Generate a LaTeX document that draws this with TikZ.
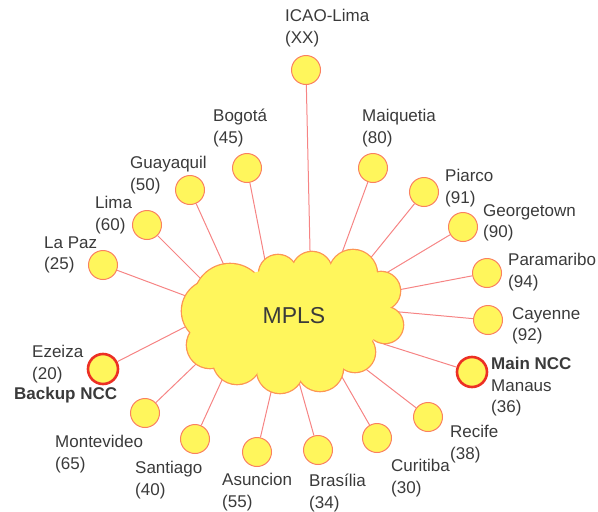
\documentclass[tikz,border=0pt]{standalone}
\usepackage{fontspec}
\setmainfont{Liberation Sans}
\usepackage{xcolor}
\definecolor{StationFill}{RGB}{255,246,92}
\definecolor{StationEdge}{RGB}{250,128,96}
\definecolor{NccEdge}{RGB}{236,48,36}
\definecolor{LinkRed}{RGB}{246,132,132}
\definecolor{CloudEdge}{RGB}{252,150,84}
\definecolor{LabelGray}{RGB}{58,58,58}
\newcommand\stationfont{\fontsize{17}{21.5}\selectfont}
\newcommand\mplsfont{\fontsize{23}{27}\selectfont}

\tikzset{
  station/.style={circle,draw=StationEdge,fill=StationFill,line width=1pt,minimum size=29pt,inner sep=0pt},
  ncc/.style={station,draw=NccEdge,line width=2.6pt,minimum size=30pt},
  link/.style={draw=LinkRed,line width=1pt,shorten >=-10pt},
  place/.style={anchor=west,align=left,inner sep=0pt,text=LabelGray,font=\stationfont},
}

\begin{document}
\begin{tikzpicture}[x=1pt,y=-1pt]
\useasboundingbox (0,0) rectangle (598,512);

% stations
\node[station] (icao) at (306,70) {};
\node[station] (bogota) at (247,168) {};
\node[station] (maiquetia) at (373,168) {};
\node[station] (guayaquil) at (190,190) {};
\node[station] (piarco) at (424,192) {};
\node[station] (lima) at (147,225) {};
\node[station] (georgetown) at (463,227) {};
\node[station] (lapaz) at (103,265) {};
\node[station] (paramaribo) at (487,273) {};
\node[station] (cayenne) at (488,320) {};
\node[ncc] (ezeiza) at (103,369) {};
\node[ncc] (manaus) at (472,372) {};
\node[station] (montevideo) at (145,413) {};
\node[station] (recife) at (428,417) {};
\node[station] (santiago) at (195,439) {};
\node[station] (curitiba) at (377,438) {};
\node[station] (asuncion) at (257,452) {};
\node[station] (brasilia) at (318,450) {};

% links into the cloud
\foreach \s/\x/\y in {icao/310/250,bogota/264/255,maiquetia/343/250,
    guayaquil/223/263,piarco/373/255,lima/202/280,georgetown/388/272,
    lapaz/186/296,paramaribo/398/290,cayenne/400/312,ezeiza/185/327,
    manaus/393/347,montevideo/195/365,recife/367/370,santiago/222/380,
    curitiba/342/377,asuncion/272/388,brasilia/302/393}{
  \coordinate (\s-in) at (\x,\y);
  \draw[link] (\s) -- (\s-in);
}

% cloud
\foreach \x/\y/\r in {230/300/36,278/274/19,312/272/20,353/274/24,381/291/19,
    385/325/18,355/352/20,320/368/23,280/370/23,237/360/24,210/345/23,213/311/31}
  \draw[CloudEdge,line width=2.6pt] (\x,\y) circle (\r pt);
\fill[StationFill] (292,318) ellipse (90pt and 50pt);
\foreach \x/\y/\r in {230/300/36,278/274/19,312/272/20,353/274/24,381/291/19,
    385/325/18,355/352/20,320/368/23,280/370/23,237/360/24,210/345/23,213/311/31}
  \fill[StationFill] (\x,\y) circle (\r pt);
\node[text=LabelGray,font=\mplsfont] (mpls) at (294,316) {MPLS};

% labels
\node[place] (icao-lbl) at (285,28) {ICAO-Lima\\(XX)};
\node[place] (bogota-lbl) at (213,128) {Bogotá\\(45)};
\node[place] (maiquetia-lbl) at (362,128) {Maiquetia\\(80)};
\node[place] (guayaquil-lbl) at (130,175) {Guayaquil\\(50)};
\node[place] (piarco-lbl) at (445,188) {Piarco\\(91)};
\node[place] (lima-lbl) at (95,215) {Lima\\(60)};
\node[place] (georgetown-lbl) at (483,223) {Georgetown\\(90)};
\node[place] (lapaz-lbl) at (44,255) {La Paz\\(25)};
\node[place] (paramaribo-lbl) at (508,272) {Paramaribo\\(94)};
\node[place] (cayenne-lbl) at (512,326) {Cayenne\\(92)};
\node[place] (ezeiza-lbl) at (32,364) {Ezeiza\\(20)};
\node[place,font=\stationfont\bfseries] (backup-lbl) at (14,395) {Backup NCC};
\node[place] (manaus-lbl) at (491,387) {\textbf{Main NCC}\\Manaus\\(36)};
\node[place] (montevideo-lbl) at (55,454) {Montevideo\\(65)};
\node[place] (recife-lbl) at (450,444) {Recife\\(38)};
\node[place] (santiago-lbl) at (135,480) {Santiago\\(40)};
\node[place] (curitiba-lbl) at (391,478) {Curitiba\\(30)};
\node[place] (asuncion-lbl) at (222,492) {Asuncion\\(55)};
\node[place] (brasilia-lbl) at (309,493) {Brasília\\(34)};
\end{tikzpicture}
\end{document}
